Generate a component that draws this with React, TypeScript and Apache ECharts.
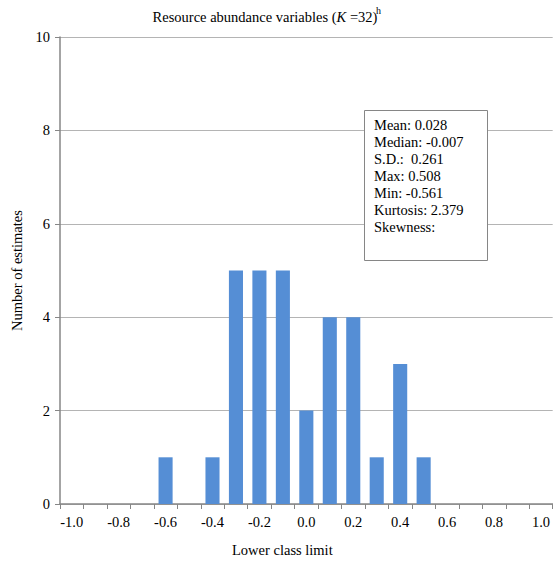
import React, { useEffect, useRef } from "react";
import * as echarts from "echarts";

// Lower class limits of the histogram bins
const classLimits = [
  "-1.0", "-0.9", "-0.8", "-0.7", "-0.6", "-0.5", "-0.4", "-0.3", "-0.2", "-0.1",
  "0.0", "0.1", "0.2", "0.3", "0.4", "0.5", "0.6", "0.7", "0.8", "0.9", "1.0",
];

// Number of estimates falling in each bin
const counts = [0, 0, 0, 0, 1, 0, 1, 5, 5, 5, 2, 4, 4, 1, 3, 1, 0, 0, 0, 0, 0];

// Summary statistics shown in the inset box
const statLines = [
  "Mean: 0.028",
  "Median: -0.007",
  "S.D.:  0.261",
  "Max: 0.508",
  "Min: -0.561",
  "Kurtosis: 2.379",
  "Skewness:",
];

const FONT = "'Liberation Serif', 'Times New Roman', serif";
const FS = 14.5;

export default function App() {
  const ref = useRef<HTMLDivElement>(null);

  useEffect(() => {
    document.body.style.margin = "0";
    if (!ref.current) return;
    const chart = echarts.init(ref.current, null, { renderer: "svg" });
    chart.setOption({
      animation: false,
      textStyle: { fontFamily: FONT, color: "#000" },
      graphic: [
        // Chart heading with italic K and superscript note marker
        {
          type: "text",
          x: 265,
          y: 17,
          style: {
            text: "Resource abundance variables ({i|K} =32)",
            fontFamily: FONT,
            fontSize: FS,
            fill: "#000",
            align: "center",
            verticalAlign: "middle",
            rich: {
              i: { fontFamily: FONT, fontSize: FS, fontStyle: "italic", fill: "#000" },
            },
          },
        },
        {
          type: "text",
          x: 376,
          y: 10,
          style: {
            text: "h",
            fontFamily: FONT,
            fontSize: 10,
            fill: "#000",
            align: "left",
            verticalAlign: "middle",
          },
        },
        {
          type: "rect",
          shape: { x: 364.5, y: 110.5, width: 123, height: 150 },
          style: { fill: "#fff", stroke: "#868686", lineWidth: 1 },
          z: 10,
        },
        {
          type: "text",
          x: 374,
          y: 116,
          z: 11,
          style: {
            text: statLines.join("\n"),
            fontFamily: FONT,
            fontSize: FS,
            lineHeight: 17,
            fill: "#000",
          },
        },
      ],
      grid: { left: 60, right: 0, top: 37, bottom: 59 },
      xAxis: {
        type: "category",
        data: classLimits,
        name: "Lower class limit",
        nameLocation: "middle",
        nameGap: 38,
        nameTextStyle: { fontFamily: FONT, fontSize: FS, color: "#000", padding: [0, 48, 0, 0] },
        axisLine: { lineStyle: { color: "#868686", width: 1.5 } },
        axisTick: { show: true, interval: 0, length: 5, lineStyle: { color: "#868686" } },
        axisLabel: { interval: 1, margin: 10, fontFamily: FONT, fontSize: FS, color: "#000" },
      },
      yAxis: {
        type: "value",
        min: 0,
        max: 10,
        interval: 2,
        name: "Number of estimates",
        nameLocation: "middle",
        nameGap: 33,
        nameTextStyle: { fontFamily: FONT, fontSize: FS, color: "#000" },
        axisLine: { show: true, lineStyle: { color: "#868686", width: 1.5 } },
        axisTick: { show: true, length: 5, lineStyle: { color: "#868686" } },
        axisLabel: { margin: 10, fontFamily: FONT, fontSize: FS, color: "#000" },
        splitLine: { lineStyle: { color: "#b4b4b4", width: 1.2 } },
      },
      series: [
        {
          type: "bar",
          data: counts,
          barWidth: "60%",
          itemStyle: { color: "#558ed5" },
        },
      ],
    });
    return () => chart.dispose();
  }, []);

  return <div ref={ref} style={{ width: 553, height: 563 }} />;
}
